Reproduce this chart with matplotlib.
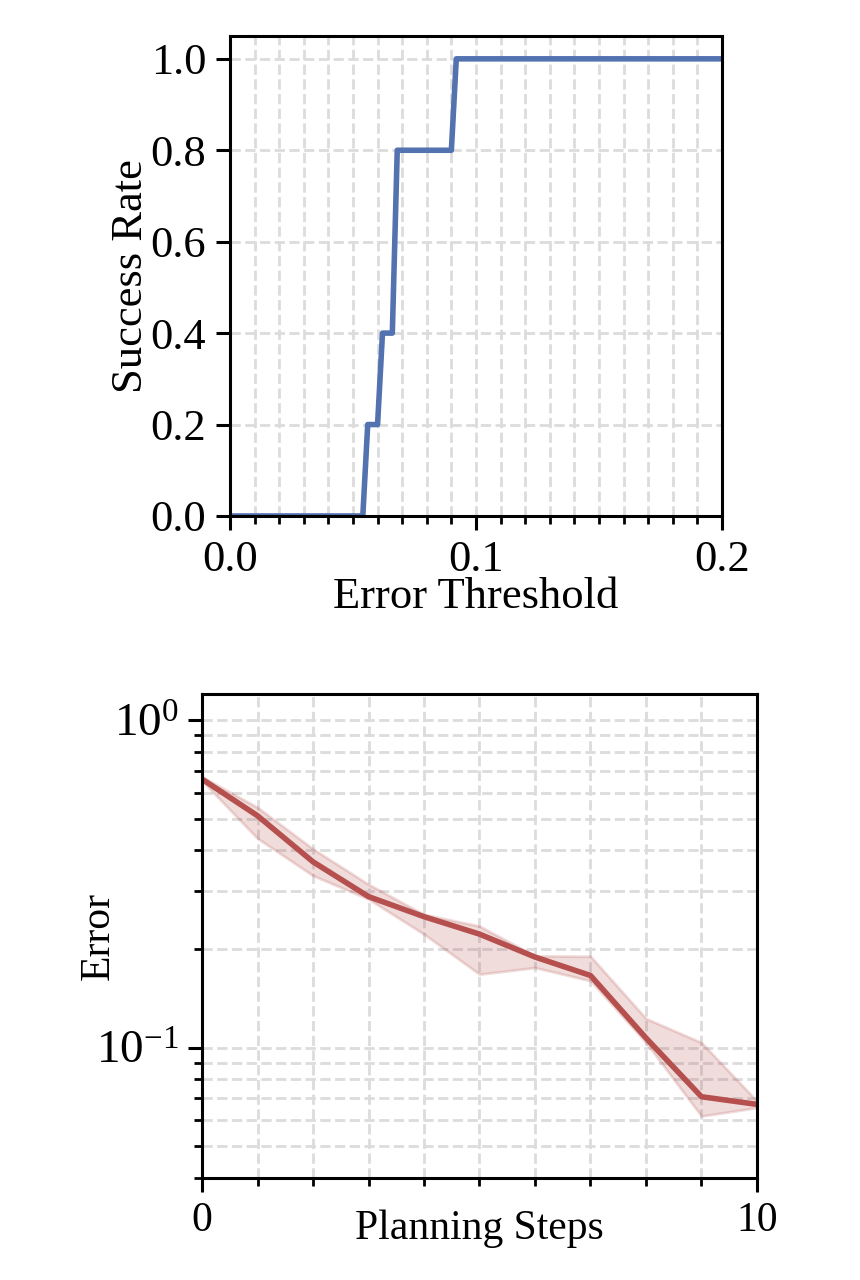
import numpy as np
import matplotlib
matplotlib.use("Agg")
import matplotlib.pyplot as plt
import matplotlib.ticker as ticker

plt.rcParams['font.family'] = ['Liberation Serif', 'DejaVu Serif']
plt.rcParams['mathtext.fontset'] = 'stix'
plt.rcParams['axes.linewidth'] = 1.1

# success rate vs error threshold (step curve corners)
thresholds = [0.0, 0.054, 0.056, 0.060, 0.062, 0.066, 0.068, 0.090, 0.092, 0.2]
success_rate = [0.0, 0.0, 0.2, 0.2, 0.4, 0.4, 0.8, 0.8, 1.0, 1.0]

# error vs planning steps
steps = [0, 1, 2, 3, 4, 5, 6, 7, 8, 9, 10]
err_mean = [0.660, 0.510, 0.369, 0.289, 0.251, 0.222, 0.189, 0.166, 0.107, 0.0708, 0.0671]
err_upper = [0.671, 0.541, 0.404, 0.315, 0.255, 0.235, 0.1905, 0.190, 0.1227, 0.1036, 0.0687]
err_lower = [0.652, 0.435, 0.335, 0.284, 0.222, 0.1675, 0.1755, 0.160, 0.1036, 0.0618, 0.0656]

blue = '#5272B0'
red = '#B5504F'
grid_kw = dict(color='#dcdcdc', linestyle='--', linewidth=1.0)

fig = plt.figure(figsize=(4.3, 6.4), dpi=200)

# top panel
ax1 = fig.add_axes([0.2674, 0.5969, 0.5721, 0.375])
ax1.plot(thresholds, success_rate, color=blue, lw=2.0)
ax1.set_xlim(0, 0.2)
ax1.set_ylim(0, 1.05)
ax1.xaxis.set_major_locator(ticker.FixedLocator([0.0, 0.1, 0.2]))
ax1.xaxis.set_major_formatter(ticker.FormatStrFormatter('%.1f'))
ax1.xaxis.set_minor_locator(ticker.MultipleLocator(0.01))
ax1.yaxis.set_major_locator(ticker.MultipleLocator(0.2))
ax1.yaxis.set_major_formatter(ticker.FormatStrFormatter('%.1f'))
ax1.grid(True, which='both', **grid_kw)
ax1.set_axisbelow(True)
ax1.tick_params(labelsize=16, width=1.1, length=5)
ax1.tick_params(which='minor', width=1.0, length=3)
ax1.set_xlabel('Error Threshold', fontsize=16, labelpad=-1)
ax1.set_ylabel('Success Rate', fontsize=16, labelpad=0)

# bottom panel
ax2 = fig.add_axes([0.2349, 0.0797, 0.6453, 0.3781])
ax2.fill_between(steps, err_lower, err_upper, color=red, alpha=0.2, lw=1.0)
ax2.plot(steps, err_mean, color=red, lw=2.0)
ax2.set_yscale('log')
ax2.set_xlim(0, 10)
ax2.set_ylim(0.04, 1.2)
ax2.xaxis.set_major_locator(ticker.FixedLocator([0, 10]))
ax2.xaxis.set_minor_locator(ticker.MultipleLocator(1))
ax2.grid(True, which='both', **grid_kw)
ax2.set_axisbelow(True)
ax2.tick_params(labelsize=15, width=1.1, length=5)
ax2.tick_params(axis='y', labelsize=17)
ax2.tick_params(which='minor', width=1.0, length=3)
ax2.set_xlabel('Planning Steps', fontsize=15, labelpad=-11)
ax2.set_ylabel('Error', fontsize=15, labelpad=-8)

fig.savefig('out.png', dpi=200)
